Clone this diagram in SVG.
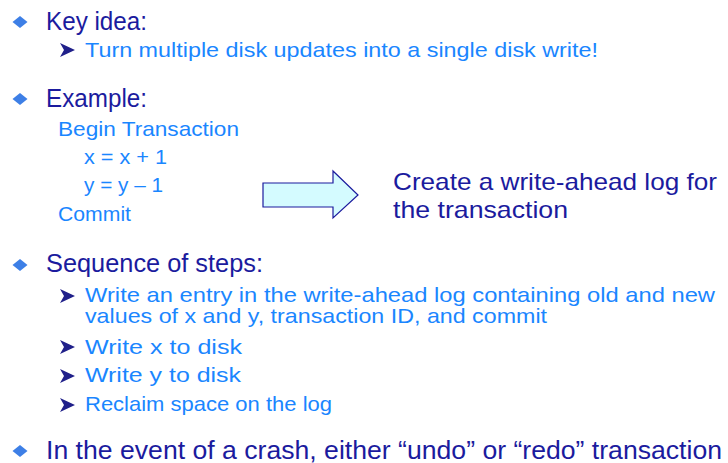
<svg xmlns="http://www.w3.org/2000/svg" width="728" height="463" viewBox="0 0 728 463">
<defs>
<style>
text{font-family:"Liberation Sans","DejaVu Sans",sans-serif}
.main{font-size:25px;fill:#1b1b9e}
.sub{font-size:21px;fill:#1a86ff}
.note{font-size:24px;fill:#1b1b9e}
.dia{fill:#3d7fe6}
.arr{fill:#20208a}
</style>
<path id="d" d="M-7.5 0 L0 -6 L7.5 0 L0 6 Z"/>
<path id="a" d="M-7 -7 L8 0 L-7 7 L-3 0 Z"/>
</defs>
<rect width="728" height="463" fill="#ffffff"/>
<g id="bullet-key">
<use href="#d" x="20" y="22" class="dia"/>
<text class="main" x="46" y="30" textLength="101" lengthAdjust="spacingAndGlyphs">Key idea:</text>
<use href="#a" x="67" y="50" class="arr"/>
<text class="sub" x="85" y="57" textLength="513" lengthAdjust="spacingAndGlyphs">Turn multiple disk updates into a single disk write!</text>
</g>
<g id="bullet-example">
<use href="#d" x="20" y="99" class="dia"/>
<text class="main" x="46" y="107" textLength="101" lengthAdjust="spacingAndGlyphs">Example:</text>
<text class="sub" x="58" y="136" textLength="181" lengthAdjust="spacingAndGlyphs">Begin Transaction</text>
<text class="sub" x="84" y="164" textLength="83" lengthAdjust="spacingAndGlyphs">x = x + 1</text>
<text class="sub" x="84" y="192" textLength="79" lengthAdjust="spacingAndGlyphs">y = y – 1</text>
<text class="sub" x="58" y="221" textLength="73" lengthAdjust="spacingAndGlyphs">Commit</text>
</g>
<g id="connectors">
<path d="M263 183 L333 183 L333 171 L358 195 L333 218 L333 207 L263 207 Z" fill="#d4fbff" stroke="#1b1b9e" stroke-width="1.2"/>
</g>
<g id="wal-note">
<text class="note" x="393" y="190" textLength="324" lengthAdjust="spacingAndGlyphs">Create a write-ahead log for</text>
<text class="note" x="393" y="218" textLength="175" lengthAdjust="spacingAndGlyphs">the transaction</text>
</g>
<g id="bullet-steps">
<use href="#d" x="20" y="265" class="dia"/>
<text class="main" x="46" y="272" textLength="217" lengthAdjust="spacingAndGlyphs">Sequence of steps:</text>
<use href="#a" x="67" y="296" class="arr"/>
<text class="sub" x="85" y="302" textLength="630" lengthAdjust="spacingAndGlyphs">Write an entry in the write-ahead log containing old and new</text>
<text class="sub" x="85" y="323" textLength="462" lengthAdjust="spacingAndGlyphs">values of x and y, transaction ID, and commit</text>
<use href="#a" x="67" y="347" class="arr"/>
<text class="sub" x="85" y="354" textLength="157" lengthAdjust="spacingAndGlyphs">Write x to disk</text>
<use href="#a" x="67" y="376" class="arr"/>
<text class="sub" x="85" y="382" textLength="156" lengthAdjust="spacingAndGlyphs">Write y to disk</text>
<use href="#a" x="67" y="405" class="arr"/>
<text class="sub" x="85" y="411" textLength="247" lengthAdjust="spacingAndGlyphs">Reclaim space on the log</text>
</g>
<g id="bullet-crash">
<use href="#d" x="20" y="451" class="dia"/>
<text class="main" x="46" y="459" textLength="676" lengthAdjust="spacingAndGlyphs">In the event of a crash, either “undo” or “redo” transaction</text>
</g>
</svg>
